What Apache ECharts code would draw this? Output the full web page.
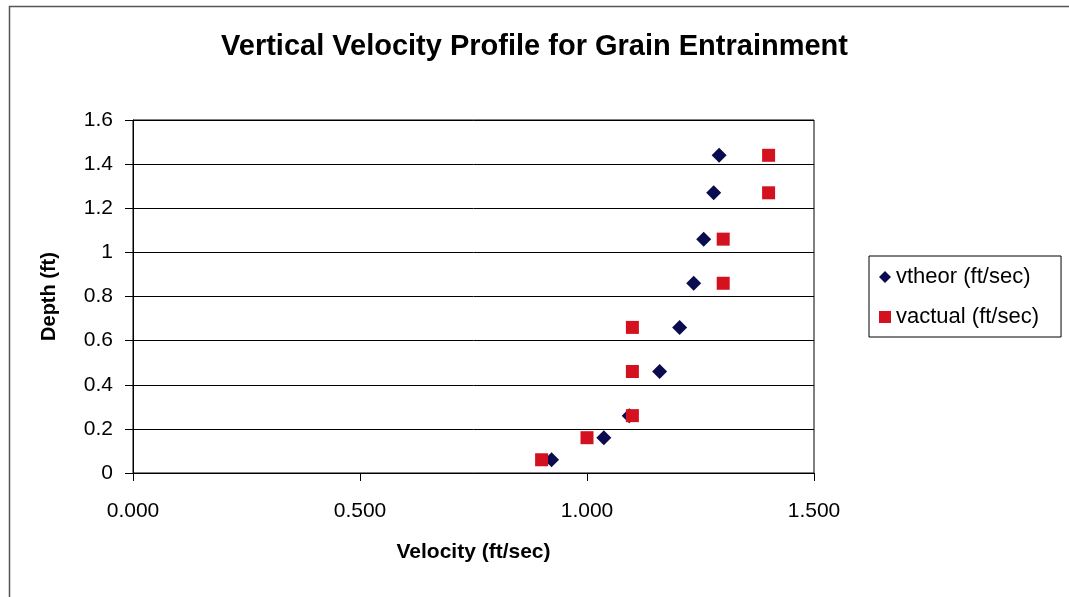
<!DOCTYPE html>
<html>
<head>
<meta charset="utf-8">
<title>Vertical Velocity Profile for Grain Entrainment</title>
<script src="https://cdn.jsdelivr.net/npm/echarts@6/dist/echarts.min.js"></script>
<style>
  html, body { margin: 0; padding: 0; background: #fff; }
  #chart { width: 1069px; height: 597px; }
</style>
</head>
<body>
<div id="chart"></div>
<script>
// depth (ft) for each measurement
const depth = [0.06, 0.16, 0.26, 0.46, 0.66, 0.86, 1.06, 1.27, 1.44]
// theoretical velocity (ft/sec)
const vtheor = [0.922, 1.037, 1.093, 1.160, 1.204, 1.235, 1.257, 1.279, 1.291]
// measured velocity (ft/sec)
const vactual = [0.9, 1.0, 1.1, 1.1, 1.1, 1.3, 1.3, 1.4, 1.4]
const seriesNames = ['vtheor (ft/sec)', 'vactual (ft/sec)']

const font = 'Liberation Sans, Arial, sans-serif'
const myChart = echarts.init(document.getElementById('chart'))

const option = {
  animation: false,
  backgroundColor: '#fff',
  textStyle: { fontFamily: font },
  title: {
    text: 'Vertical Velocity Profile for Grain Entrainment',
    left: 'center',
    top: 27,
    textStyle: { fontFamily: font, fontSize: 29, fontWeight: 'bold', color: '#000' }
  },
  graphic: [{
    // outer chart frame
    type: 'rect',
    left: 7,
    top: 4,
    shape: { width: 1100, height: 700 },
    style: { fill: 'none', stroke: '#555', lineWidth: 1.5 },
    silent: true
  }],
  legend: {
    orient: 'vertical',
    left: 869,
    top: 256,
    padding: [10, 22, 9, 10],
    itemGap: 18,
    itemWidth: 12,
    itemHeight: 12,
    borderColor: '#000',
    borderWidth: 1,
    textStyle: { fontFamily: font, fontSize: 22, color: '#000' },
    data: [
      { name: seriesNames[0], icon: 'diamond' },
      { name: seriesNames[1], icon: 'rect' }
    ]
  },
  grid: {
    left: 133,
    top: 120,
    right: 255,
    bottom: 124,
    show: true,
    borderColor: '#000',
    borderWidth: 1
  },
  xAxis: {
    type: 'value',
    min: 0,
    max: 1.5,
    interval: 0.5,
    name: 'Velocity (ft/sec)',
    nameLocation: 'middle',
    nameGap: 69,
    nameTextStyle: { fontFamily: font, fontSize: 21, fontWeight: 'bold', color: '#000' },
    axisLine: { show: true, lineStyle: { color: '#000', width: 1 } },
    axisTick: { show: true, length: 8, lineStyle: { color: '#000' } },
    axisLabel: {
      margin: 28,
      fontSize: 21,
      color: '#000',
      fontFamily: font,
      formatter: v => v.toFixed(3)
    },
    splitLine: { show: false }
  },
  yAxis: {
    type: 'value',
    min: 0,
    max: 1.6,
    interval: 0.2,
    name: 'Depth (ft)',
    nameLocation: 'middle',
    nameRotate: 90,
    nameGap: 74,
    nameTextStyle: { fontFamily: font, fontSize: 20, fontWeight: 'bold', color: '#000' },
    axisLine: { show: true, lineStyle: { color: '#000', width: 1 } },
    axisTick: { show: true, length: 8, lineStyle: { color: '#000' } },
    axisLabel: {
      margin: 20,
      fontSize: 21,
      color: '#000',
      fontFamily: font,
      formatter: v => String(parseFloat(v.toFixed(1)))
    },
    splitLine: { show: true, lineStyle: { color: '#000', width: 1 } }
  },
  series: [
    {
      name: seriesNames[0],
      type: 'scatter',
      symbol: 'diamond',
      symbolSize: 15,
      itemStyle: { color: '#0b0b4f', opacity: 1 },
      data: depth.map((d, i) => [vtheor[i], d])
    },
    {
      name: seriesNames[1],
      type: 'scatter',
      symbol: 'rect',
      symbolSize: 13,
      itemStyle: { color: '#d4111e', opacity: 1 },
      data: depth.map((d, i) => [vactual[i], d])
    }
  ]
}
myChart.setOption(option, true)
</script>
</body>
</html>
